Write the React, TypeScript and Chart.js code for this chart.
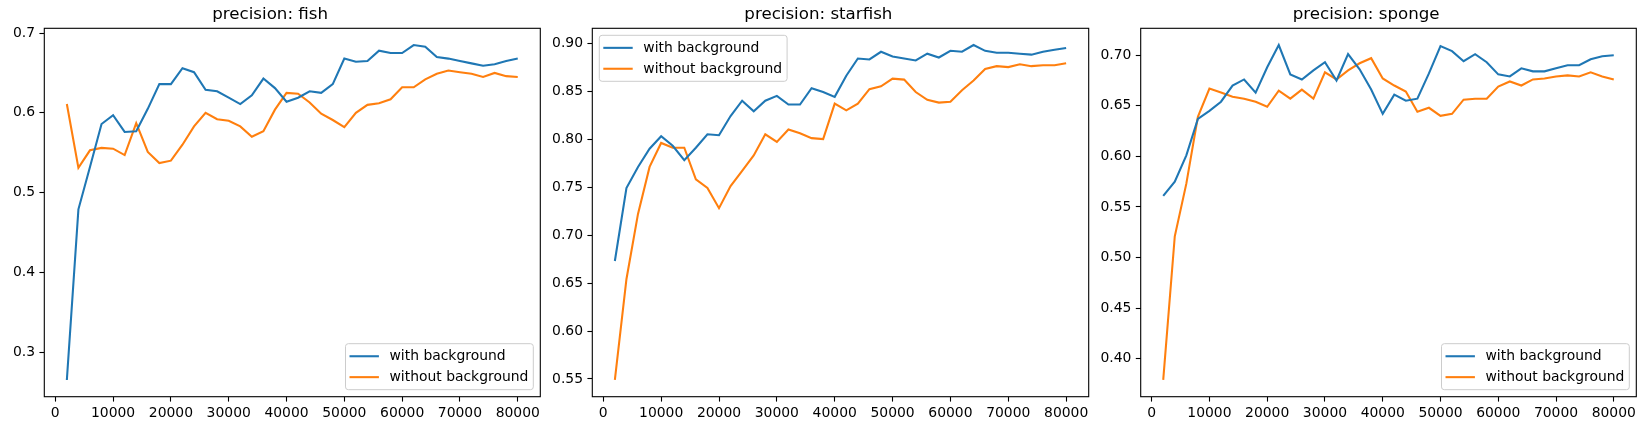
import React, { useEffect, useRef } from "react";
import { Chart, registerables } from "chart.js";

Chart.register(...registerables);

// ---------- data ----------
const steps = [
  2000, 4000, 6000, 8000, 10000, 12000, 14000, 16000, 18000, 20000,
  22000, 24000, 26000, 28000, 30000, 32000, 34000, 36000, 38000, 40000,
  42000, 44000, 46000, 48000, 50000, 52000, 54000, 56000, 58000, 60000,
  62000, 64000, 66000, 68000, 70000, 72000, 74000, 76000, 78000, 80000,
];

const seriesLabels = ["with background", "without background"];

const fishWith = [
  0.265, 0.479, 0.532, 0.586, 0.597, 0.576, 0.577, 0.605, 0.636, 0.636,
  0.656, 0.651, 0.629, 0.627, 0.619, 0.611, 0.622, 0.643, 0.631, 0.614,
  0.619, 0.627, 0.625, 0.636, 0.668, 0.664, 0.665, 0.678, 0.675, 0.675,
  0.685, 0.683, 0.670, 0.668, 0.665, 0.662, 0.659, 0.661, 0.665, 0.668,
];
const fishWithout = [
  0.611, 0.531, 0.553, 0.556, 0.555, 0.547, 0.587, 0.551, 0.537, 0.540,
  0.560, 0.583, 0.600, 0.592, 0.590, 0.583, 0.570, 0.577, 0.604, 0.625,
  0.624, 0.613, 0.599, 0.591, 0.582, 0.600, 0.610, 0.612, 0.617, 0.632,
  0.632, 0.642, 0.649, 0.653, 0.651, 0.649, 0.645, 0.650, 0.646, 0.645,
];

const starfishWith = [
  0.673, 0.749, 0.771, 0.790, 0.803, 0.793, 0.778, 0.791, 0.805, 0.804,
  0.824, 0.840, 0.829, 0.840, 0.845, 0.836, 0.836, 0.853, 0.849, 0.844,
  0.866, 0.884, 0.883, 0.891, 0.886, 0.884, 0.882, 0.889, 0.885, 0.892,
  0.891, 0.898, 0.892, 0.890, 0.890, 0.889, 0.888, 0.891, 0.893, 0.895,
];
const starfishWithout = [
  0.549, 0.654, 0.722, 0.771, 0.796, 0.791, 0.791, 0.758, 0.749, 0.728,
  0.751, 0.767, 0.783, 0.805, 0.797, 0.810, 0.806, 0.801, 0.800, 0.837,
  0.830, 0.837, 0.852, 0.855, 0.863, 0.862, 0.849, 0.841, 0.838, 0.839,
  0.851, 0.861, 0.873, 0.876, 0.875, 0.878, 0.876, 0.877, 0.877, 0.879,
];

const spongeWith = [
  0.561, 0.575, 0.601, 0.637, 0.645, 0.654, 0.670, 0.676, 0.663, 0.688,
  0.710, 0.681, 0.676, 0.685, 0.693, 0.675, 0.701, 0.686, 0.666, 0.642,
  0.661, 0.655, 0.657, 0.682, 0.709, 0.704, 0.694, 0.701, 0.693, 0.681,
  0.679, 0.687, 0.684, 0.684, 0.687, 0.690, 0.690, 0.696, 0.699, 0.700,
];
const spongeWithout = [
  0.379, 0.521, 0.573, 0.639, 0.667, 0.663, 0.659, 0.657, 0.654, 0.649,
  0.665, 0.657, 0.666, 0.657, 0.683, 0.676, 0.685, 0.692, 0.697, 0.677,
  0.670, 0.664, 0.644, 0.648, 0.640, 0.642, 0.656, 0.657, 0.657, 0.669,
  0.674, 0.670, 0.676, 0.677, 0.679, 0.680, 0.679, 0.683, 0.679, 0.676,
];

const xTicks = [0, 10000, 20000, 30000, 40000, 50000, 60000, 70000, 80000];
const fishYTicks = [0.3, 0.4, 0.5, 0.6, 0.7];
const starfishYTicks = [0.55, 0.6, 0.65, 0.7, 0.75, 0.8, 0.85, 0.9];
const spongeYTicks = [0.4, 0.45, 0.5, 0.55, 0.6, 0.65, 0.7];

// ---------- styling / layout ----------
const FONT = "'DejaVu Sans', 'Liberation Sans', sans-serif";
const COLORS = ["#1f77b4", "#ff7f0e"];
const CANVAS_W = 548;
const CANVAS_H = 422;

type Panel = {
  title: string;
  a: number[];
  b: number[];
  yTicks: number[];
  decimals: number;
  legendLoc: "lower right" | "upper left";
  left: number;
  yAxisW: number;
  rightPad: number;
};

const panels: Panel[] = [
  { title: "precision: fish", a: fishWith, b: fishWithout, yTicks: fishYTicks, decimals: 1, legendLoc: "lower right", left: 0, yAxisW: 44.3, rightPad: 7.7 },
  { title: "precision: starfish", a: starfishWith, b: starfishWithout, yTicks: starfishYTicks, decimals: 2, legendLoc: "upper left", left: 548, yAxisW: 44.3, rightPad: 7.3 },
  { title: "precision: sponge", a: spongeWith, b: spongeWithout, yTicks: spongeYTicks, decimals: 2, legendLoc: "lower right", left: 1096, yAxisW: 44.7, rightPad: 7.7 },
];

const spinesPlugin = {
  id: "spines",
  afterDraw(chart: any) {
    const { ctx, chartArea: a } = chart;
    ctx.save();
    ctx.strokeStyle = "#000";
    ctx.lineWidth = 1.1;
    ctx.strokeRect(a.left, a.top, a.right - a.left, a.bottom - a.top);
    ctx.restore();
  },
};

const mplLegendPlugin = {
  id: "mplLegend",
  afterDraw(chart: any, _args: any, opts: any) {
    const { ctx, chartArea: a } = chart;
    const ds = chart.data.datasets;
    const fs = 13.9;
    ctx.save();
    ctx.font = `${fs}px ${FONT}`;
    let textW = 0;
    ds.forEach((d: any) => {
      textW = Math.max(textW, ctx.measureText(d.label).width);
    });
    const padL = 4;
    const handle = 29.4;
    const gap = 10.6;
    const padR = 5;
    const padV = 5.6;
    const spacing = 7;
    const w = padL + handle + gap + textW + padR;
    const h = 2 * padV + ds.length * fs + (ds.length - 1) * spacing;
    const inset = 7;
    let x: number, y: number;
    if (opts.loc === "upper left") {
      x = a.left + inset;
      y = a.top + inset;
    } else {
      x = a.right - inset - w;
      y = a.bottom - inset - h;
    }
    const r = 2.8;
    ctx.beginPath();
    ctx.moveTo(x + r, y);
    ctx.lineTo(x + w - r, y);
    ctx.arcTo(x + w, y, x + w, y + r, r);
    ctx.lineTo(x + w, y + h - r);
    ctx.arcTo(x + w, y + h, x + w - r, y + h, r);
    ctx.lineTo(x + r, y + h);
    ctx.arcTo(x, y + h, x, y + h - r, r);
    ctx.lineTo(x, y + r);
    ctx.arcTo(x, y, x + r, y, r);
    ctx.closePath();
    ctx.fillStyle = "rgba(255,255,255,0.8)";
    ctx.fill();
    ctx.strokeStyle = "#cccccc";
    ctx.lineWidth = 1;
    ctx.stroke();
    ds.forEach((d: any, i: number) => {
      const cy = y + padV + fs / 2 + i * (fs + spacing);
      ctx.beginPath();
      ctx.strokeStyle = d.borderColor;
      ctx.lineWidth = 2.08;
      ctx.moveTo(x + padL, cy);
      ctx.lineTo(x + padL + handle, cy);
      ctx.stroke();
      ctx.fillStyle = "#000";
      ctx.textBaseline = "middle";
      ctx.textAlign = "left";
      ctx.fillText(d.label, x + padL + handle + gap, cy + 0.5);
    });
    ctx.restore();
  },
};

function PanelChart({ p }: { p: Panel }) {
  const ref = useRef<HTMLCanvasElement | null>(null);
  useEffect(() => {
    if (!ref.current) return;
    const all = [...p.a, ...p.b];
    const lo = Math.min(...all);
    const hi = Math.max(...all);
    const ym = (hi - lo) * 0.05;
    const x0 = steps[0];
    const x1 = steps[steps.length - 1];
    const xm = (x1 - x0) * 0.05;
    const series = [p.a, p.b];
    const chart = new Chart(ref.current, {
      type: "line",
      data: {
        datasets: series.map((vals, i) => ({
          label: seriesLabels[i],
          data: steps.map((s, j) => ({ x: s, y: vals[j] })),
          borderColor: COLORS[i],
          backgroundColor: COLORS[i],
          borderWidth: 2.08,
          pointRadius: 0,
          pointHoverRadius: 0,
          tension: 0,
          fill: false,
        })),
      },
      options: {
        animation: false,
        responsive: false,
        maintainAspectRatio: false,
        devicePixelRatio: 1,
        events: [],
        layout: { padding: { left: 0, right: p.rightPad, top: 0, bottom: 0 } },
        plugins: {
          legend: { display: false },
          tooltip: { enabled: false },
          title: {
            display: true,
            text: p.title,
            color: "#000",
            font: { family: FONT, size: 16.67, weight: "normal", lineHeight: 1.2 },
            padding: { top: 4.3, bottom: 4 },
          },
          mplLegend: { loc: p.legendLoc },
        } as any,
        scales: {
          x: {
            type: "linear",
            min: x0 - xm,
            max: x1 + xm,
            afterBuildTicks: (scale: any) => {
              scale.ticks = xTicks.map((v) => ({ value: v }));
            },
            afterFit: (scale: any) => {
              scale.height = 25.3;
            },
            grid: {
              display: true,
              drawOnChartArea: false,
              drawTicks: true,
              tickLength: 4.9,
              tickColor: "#000",
              tickWidth: 1.1,
            },
            border: { display: false },
            ticks: {
              color: "#000",
              font: { family: FONT, size: 13.9 },
              padding: 3,
              maxRotation: 0,
              autoSkip: false,
              callback: (v: any) => String(v),
            },
          },
          y: {
            type: "linear",
            min: lo - ym,
            max: hi + ym,
            afterBuildTicks: (scale: any) => {
              scale.ticks = p.yTicks.map((v) => ({ value: v }));
            },
            afterFit: (scale: any) => {
              scale.width = p.yAxisW;
            },
            grid: {
              display: true,
              drawOnChartArea: false,
              drawTicks: true,
              tickLength: 4.9,
              tickColor: "#000",
              tickWidth: 1.1,
            },
            border: { display: false },
            ticks: {
              color: "#000",
              font: { family: FONT, size: 13.9 },
              padding: 4.4,
              autoSkip: false,
              callback: (v: any) => Number(v).toFixed(p.decimals),
            },
          },
        },
      } as any,
      plugins: [spinesPlugin, mplLegendPlugin],
    });
    return () => chart.destroy();
  }, [p]);
  return (
    <canvas
      ref={ref}
      width={CANVAS_W}
      height={CANVAS_H}
      style={{ position: "absolute", left: p.left, top: 0, width: CANVAS_W, height: CANVAS_H }}
    />
  );
}

export default function App() {
  return (
    <div
      style={{
        position: "absolute",
        left: 0,
        top: 0,
        width: 1644,
        height: 422,
        background: "#fff",
        overflow: "hidden",
      }}
    >
      {panels.map((p) => (
        <PanelChart key={p.title} p={p} />
      ))}
    </div>
  );
}
